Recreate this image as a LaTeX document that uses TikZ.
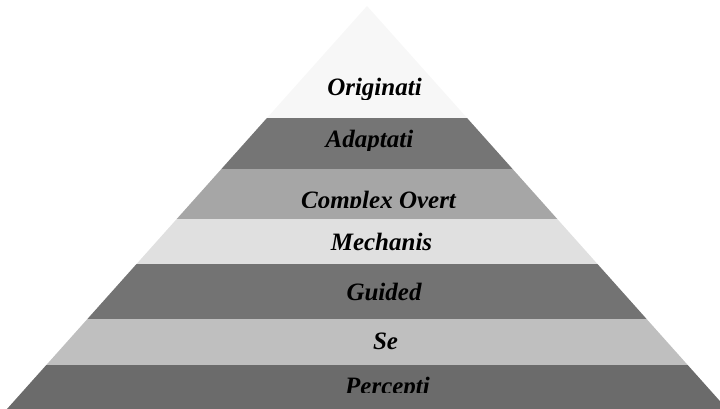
\documentclass[tikz,border=0pt]{standalone}
\usepackage{fontspec}
\setmainfont{Liberation Serif}
\begin{document}
\begin{tikzpicture}[x=1pt,y=-1pt,
  tier/.style={font=\fontsize{25}{30}\selectfont\bfseries\itshape,
    text=black, anchor=base, inner sep=0pt}]
\useasboundingbox (0,0) rectangle (720,409);
% pyramid, cut into horizontal tiers
\begin{scope}
  \clip (0,0) rectangle (720,409);
  \clip (367,6) -- (727,409) -- (7,409) -- cycle;
  \fill[black!3]  (0,0)   rectangle (720,118);
  \fill[black!54] (0,118) rectangle (720,169);
  \fill[black!35] (0,169) rectangle (720,219);
  \fill[black!12] (0,219) rectangle (720,264);
  \fill[black!55] (0,264) rectangle (720,319);
  \fill[black!25] (0,319) rectangle (720,365);
  \fill[black!58] (0,365) rectangle (720,409);
\end{scope}
% tier labels, each cut off by its text box
\begin{scope}
  \clip (0,60) rectangle (720,100);
  \node[tier] (orig) at (374.5,96) {Originati};
\end{scope}
\begin{scope}
  \clip (0,118) rectangle (720,151);
  \node[tier] (adap) at (369.5,148) {Adaptati};
\end{scope}
\begin{scope}
  \clip (0,169) rectangle (720,207);
  \node[tier] (cplx) at (378.5,208) {Complex Overt};
\end{scope}
\begin{scope}
  \clip (0,219) rectangle (720,264);
  \node[tier] (mech) at (381.5,250) {Mechanis};
\end{scope}
\begin{scope}
  \clip (0,264) rectangle (720,319);
  \node[tier] (guid) at (384,300) {Guided};
\end{scope}
\begin{scope}
  \clip (0,319) rectangle (720,365);
  \node[tier] (set) at (385.5,349) {Se};
\end{scope}
\begin{scope}
  \clip (0,365) rectangle (720,392);
  \node[tier] (perc) at (387.5,394) {Percepti};
\end{scope}
\end{tikzpicture}
\end{document}
